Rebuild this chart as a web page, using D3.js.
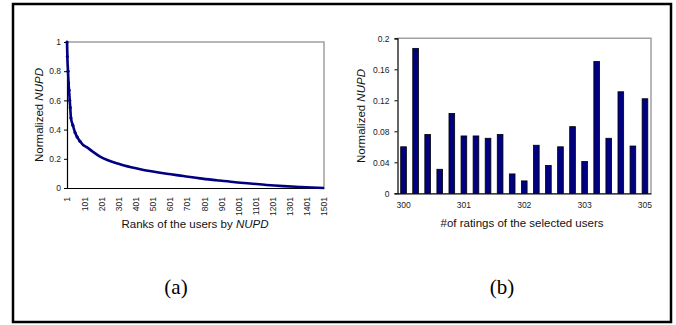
<!DOCTYPE html>
<html>
<head>
<meta charset="utf-8">
<script src="https://cdn.jsdelivr.net/npm/d3@7"></script>
<style>
  body { margin: 0; background: #fff; }
  svg { display: block; font-family: "Liberation Sans", Arial, sans-serif; }
</style>
</head>
<body>
<svg id="fig" width="676" height="325"></svg>
<script>
// (a) rank of user vs normalized NUPD
var rankValues = [1, 3, 7, 10, 13, 17, 20, 24, 35, 48, 60, 77, 95, 116, 150, 194, 240, 291, 340,
    388, 435, 485, 583, 680, 777, 875, 971, 1070, 1166, 1265, 1360, 1430, 1501];
var nupdValues = [1.0, 0.9, 0.8, 0.72, 0.67, 0.6, 0.55, 0.48, 0.43, 0.38, 0.35, 0.32, 0.295, 0.28,
    0.25, 0.215, 0.19, 0.17, 0.152, 0.139, 0.127, 0.116, 0.097, 0.082, 0.066, 0.053, 0.041,
    0.031, 0.021, 0.013, 0.007, 0.003, 0.0];
var rankTicks = [1, 101, 201, 301, 401, 501, 601, 701, 801, 901, 1001, 1101, 1201, 1301, 1401, 1501];
var yTicksA = [0, 0.2, 0.4, 0.6, 0.8, 1];

// (b) bars for the selected users
var barValues = [0.060, 0.187, 0.076, 0.031, 0.103, 0.074, 0.074, 0.071, 0.076, 0.025, 0.016,
    0.062, 0.036, 0.060, 0.086, 0.041, 0.170, 0.071, 0.131, 0.061, 0.122];
var barTickLabels = ["300", "301", "302", "303", "305"]; // shown under every 5th bar
var yTicksB = [0, 0.04, 0.08, 0.12, 0.16, 0.2];

var navy = "#000080";
var svg = d3.select("#fig");

// outer frame
svg.append("rect")
    .attr("x", 13).attr("y", 4)
    .attr("width", 658).attr("height", 318)
    .attr("fill", "none").attr("stroke", "#000").attr("stroke-width", 2.5);

function yTitle(g, x, y) {
    var t = g.append("text")
        .attr("transform", "translate(" + x + "," + y + ") rotate(-90)")
        .attr("text-anchor", "middle")
        .attr("font-size", 11.5)
        .attr("fill", "#111");
    t.append("tspan").text("Normalized ");
    t.append("tspan").attr("font-style", "italic").text("NUPD");
}

function frame(g, x0, x1, y0, y1) {
    g.append("path")
        .attr("d", "M" + x0 + "," + y1 + "H" + x1 + "V" + y0)
        .attr("fill", "none").attr("stroke", "#a0a0a0").attr("stroke-width", 1.5);
}

// ---------- chart (a) ----------
var ga = svg.append("g");
var xa = d3.scaleLinear().domain([1, 1501]).range([67, 324]);
var ya = d3.scaleLinear().domain([0, 1]).range([188, 42]);

frame(ga, 67, 324, 188, 42);

var yAxisA = ga.append("g")
    .attr("transform", "translate(67,0)")
    .call(d3.axisLeft(ya).tickValues(yTicksA).tickSize(3).tickPadding(3).tickFormat(d3.format("")));
var xAxisA = ga.append("g")
    .attr("transform", "translate(0,188)")
    .call(d3.axisBottom(xa).tickValues(rankTicks).tickSize(0).tickFormat(d => d));
xAxisA.selectAll("text")
    .attr("text-anchor", "end")
    .attr("transform", "translate(0,9) rotate(-90)")
    .attr("x", 0).attr("y", 0).attr("dy", "0.35em");

var line = d3.line()
    .x((d, i) => xa(rankValues[i]))
    .y(d => ya(d))
    .curve(d3.curveMonotoneX);

ga.append("path")
    .datum(nupdValues)
    .attr("d", line)
    .attr("fill", "none")
    .attr("stroke", navy)
    .attr("stroke-width", 2.6);

ga.selectAll("circle")
    .data(nupdValues.slice(0, 12))
    .enter().append("circle")
    .attr("cx", (d, i) => xa(rankValues[i]))
    .attr("cy", d => ya(d))
    .attr("r", 1.6)
    .attr("fill", navy);

yTitle(ga, 43, 115);
var xta = ga.append("text")
    .attr("x", 195).attr("y", 228)
    .attr("text-anchor", "middle")
    .attr("font-size", 11.5).attr("fill", "#111");
xta.append("tspan").text("Ranks of the users by ");
xta.append("tspan").attr("font-style", "italic").text("NUPD");

ga.append("text")
    .attr("x", 176).attr("y", 294)
    .attr("text-anchor", "middle")
    .attr("font-family", "'Liberation Serif', serif")
    .attr("font-size", 21)
    .text("(a)");

// ---------- chart (b) ----------
var gb = svg.append("g");
var idx = d3.range(barValues.length);
var xb = d3.scaleBand().domain(idx).range([397.5, 651]).paddingInner(0.53).paddingOuter(0.265);
var yb = d3.scaleLinear().domain([0, 0.2]).range([193.3, 38.3]);

frame(gb, 397.5, 651, 193.3, 38.3);

gb.selectAll("rect.bar")
    .data(barValues)
    .enter().append("rect")
    .attr("class", "bar")
    .attr("x", (d, i) => xb(i))
    .attr("y", d => yb(d))
    .attr("width", xb.bandwidth())
    .attr("height", d => yb(0) - yb(d))
    .attr("fill", navy)
    .attr("stroke", "#000")
    .attr("stroke-width", 0.8);

var yAxisB = gb.append("g")
    .attr("transform", "translate(397.5,0)")
    .call(d3.axisLeft(yb).tickValues(yTicksB).tickSize(3).tickPadding(5).tickFormat(d3.format("")));
var labelledBars = idx.filter(i => i % 5 === 0);
var xAxisB = gb.append("g")
    .attr("transform", "translate(0,193.3)")
    .call(d3.axisBottom(xb).tickValues(labelledBars).tickSize(0).tickPadding(9)
        .tickFormat((d, i) => barTickLabels[i]));

yTitle(gb, 365, 116);
gb.append("text")
    .attr("x", 522).attr("y", 227)
    .attr("text-anchor", "middle")
    .attr("font-size", 11.5).attr("fill", "#111")
    .text("#of ratings of the selected users");

gb.append("text")
    .attr("x", 502).attr("y", 294)
    .attr("text-anchor", "middle")
    .attr("font-family", "'Liberation Serif', serif")
    .attr("font-size", 21)
    .text("(b)");

// axis styling
svg.selectAll(".domain").attr("stroke", "#000").attr("stroke-width", 1.2);
svg.selectAll(".tick line").attr("stroke", "#000");
svg.selectAll(".tick text").attr("font-size", 8.5).attr("fill", "#222")
    .attr("font-family", "'Liberation Sans', Arial, sans-serif");
</script>
</body>
</html>
